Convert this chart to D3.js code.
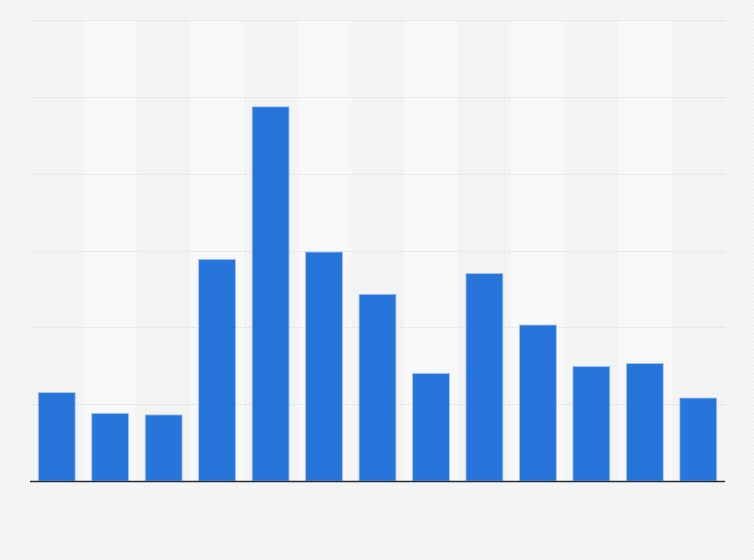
<!DOCTYPE html>
<html>
<head>
<meta charset="utf-8">
<script src="https://cdn.jsdelivr.net/npm/d3@7"></script>
<style>
html,body{margin:0;padding:0;background:#f4f4f4;}
svg{display:block;}
</style>
</head>
<body>
<svg id="chart" width="754" height="560"></svg>
<script>
const categories = ["1","2","3","4","5","6","7","8","9","10","11","12","13"];
const values = [11.5, 8.8, 8.6, 28.85, 48.7, 29.8, 24.3, 14.0, 27.0, 20.3, 14.9, 15.3, 10.8];
const yTicks = [0, 10, 20, 30, 40, 50, 60];

const W = 754, H = 560;
const margin = {top: 20, right: 29, bottom: 79, left: 30};
const svg = d3.select("#chart");

const x = d3.scaleBand().domain(categories).range([margin.left, W - margin.right]).paddingInner(0.31).paddingOuter(0.155);
const bands = d3.scaleBand().domain(categories).range([margin.left, W - margin.right]).padding(0);
const y = d3.scaleLinear().domain([0, 60]).range([H - margin.bottom, margin.top]);

// background texture
const defs = svg.append("defs");
const pat = defs.append("pattern").attr("id","dots").attr("width",4).attr("height",4).attr("patternUnits","userSpaceOnUse");
pat.append("rect").attr("width",4).attr("height",4).attr("fill","#f4f4f4");
pat.append("rect").attr("x",1).attr("y",1).attr("width",1).attr("height",1).attr("fill","#ececec");
svg.append("rect").attr("width",W).attr("height",H).attr("fill","url(#dots)");

// alternating bands
svg.append("g").selectAll("rect").data(categories.filter((d,i)=>i%2===1)).join("rect")
  .attr("x", d => bands(d)).attr("width", bands.bandwidth())
  .attr("y", y(60)).attr("height", y(0) - y(60))
  .attr("fill", "#f8f8f8");

// gridlines
svg.append("g").selectAll("line").data(yTicks.filter(t => t > 0)).join("line")
  .attr("x1", margin.left).attr("x2", W - margin.right)
  .attr("y1", d => Math.round(y(d)) + 0.5).attr("y2", d => Math.round(y(d)) + 0.5)
  .attr("stroke", "#dcdcdc").attr("stroke-width", 1).attr("stroke-dasharray", "1,1");

// bars
svg.append("g").selectAll("rect").data(values).join("rect")
  .attr("x", (d,i) => x(categories[i]))
  .attr("width", x.bandwidth())
  .attr("y", d => y(d))
  .attr("height", d => y(0) - y(d))
  .attr("fill", "#2775db")
  .attr("stroke", "#a9c6ef").attr("stroke-width", 0.8);

// baseline
svg.append("line")
  .attr("x1", margin.left).attr("x2", W - margin.right)
  .attr("y1", y(0) + 0.5).attr("y2", y(0) + 0.5)
  .attr("stroke", "#222c38").attr("stroke-width", 1.5);
</script>
</body>
</html>
